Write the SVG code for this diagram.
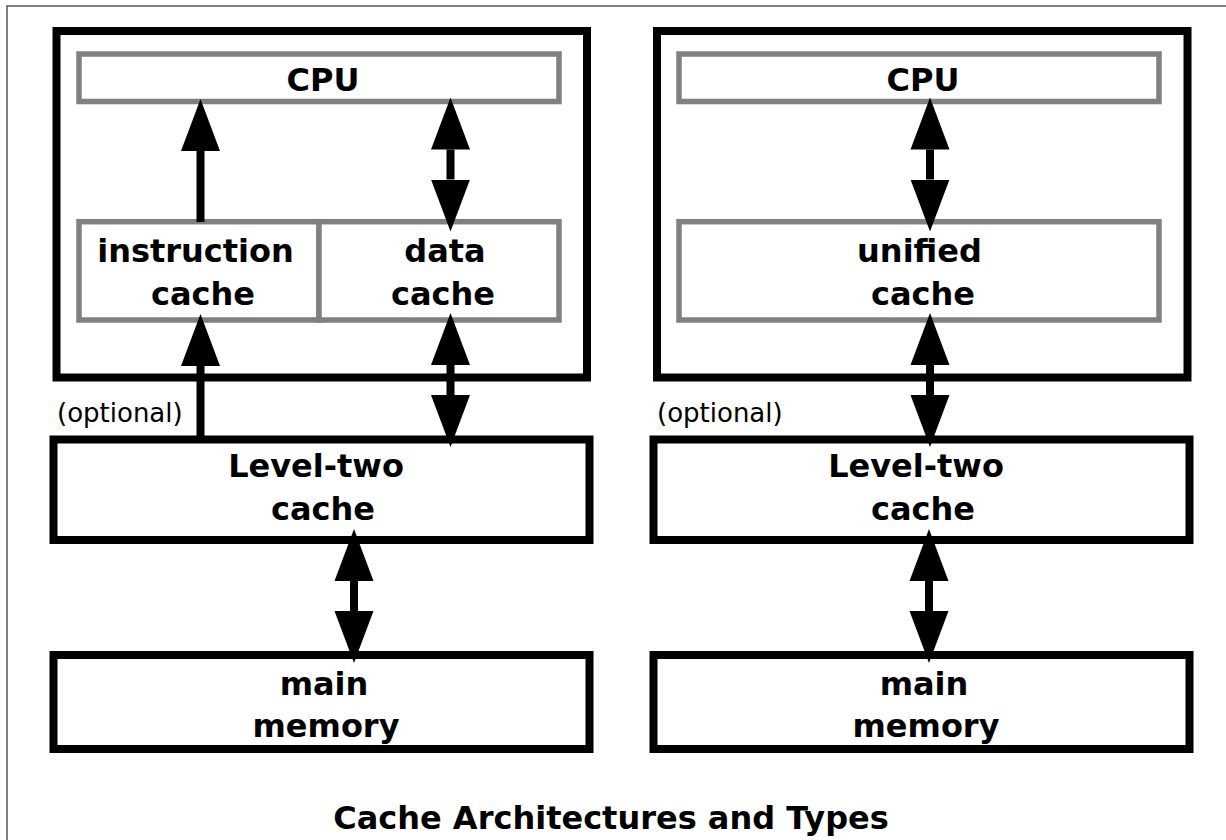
<svg xmlns="http://www.w3.org/2000/svg" width="1226" height="840" viewBox="0 0 1226 840">
<style>
.frame{fill:none;stroke:#555;stroke-width:1.5}
.outer{fill:#fff;stroke:#000;stroke-width:8}
.inner{fill:#fff;stroke:#808080;stroke-width:5.5}
.blk{fill:#fff;stroke:#000;stroke-width:8}
.t{font-family:"DejaVu Sans","Liberation Sans",sans-serif;font-weight:bold;font-size:32px;text-anchor:middle;fill:#000}
.opt{font-family:"DejaVu Sans","Liberation Sans",sans-serif;font-size:26px;fill:#000}
.arr{stroke:#000;stroke-width:8;fill:none}
.one{marker-end:url(#ah)}
.two{marker-start:url(#ah);marker-end:url(#ah)}
</style>
<defs>
<marker id="ah" viewBox="0 0 52 40" refX="0" refY="20" markerWidth="52" markerHeight="40" markerUnits="userSpaceOnUse" orient="auto-start-reverse">
<path d="M0,0.5 L52,20 L0,39.5 Z" fill="#000"/>
</marker>
</defs>
<rect width="1226" height="840" fill="#fff"/>
<rect class="frame" x="7" y="6" width="1240" height="860"/>

<g id="left-chip">
<rect class="outer" x="56.5" y="31" width="530.5" height="346.5"/>
</g>
<g id="left-cpu">
<rect class="inner" x="79" y="54" width="480" height="47.5"/>
<text class="t" x="323" y="91">CPU</text>
</g>
<g id="left-icache">
<rect class="inner" x="79" y="221.7" width="240" height="98.3"/>
<text class="t" x="195.5" y="262">instruction</text>
<text class="t" x="203" y="305">cache</text>
</g>
<g id="left-dcache">
<rect class="inner" x="319" y="221.7" width="240" height="98.3"/>
<text class="t" x="445" y="262">data</text>
<text class="t" x="443" y="305">cache</text>
</g>
<g id="left-l2">
<rect class="blk" x="53.5" y="439.5" width="536" height="100.5"/>
<text class="t" x="316" y="477">Level-two</text>
<text class="t" x="323" y="519.5">cache</text>
</g>
<g id="left-mem">
<rect class="blk" x="53.5" y="655" width="536" height="94"/>
<text class="t" x="324" y="695">main</text>
<text class="t" x="326" y="737">memory</text>
</g>
<g id="left-optional">
<text class="opt" x="57" y="421.5">(optional)</text>
</g>

<g id="right-chip">
<rect class="outer" x="657" y="31" width="530.5" height="346.5"/>
</g>
<g id="right-cpu">
<rect class="inner" x="679" y="54" width="480" height="47.5"/>
<text class="t" x="923" y="91">CPU</text>
</g>
<g id="right-ucache">
<rect class="inner" x="679" y="221.7" width="480" height="98.3"/>
<text class="t" x="919.5" y="262">unified</text>
<text class="t" x="923" y="305">cache</text>
</g>
<g id="right-l2">
<rect class="blk" x="653.5" y="439.5" width="536" height="100.5"/>
<text class="t" x="916" y="477">Level-two</text>
<text class="t" x="923" y="519.5">cache</text>
</g>
<g id="right-mem">
<rect class="blk" x="653.5" y="655" width="536" height="94"/>
<text class="t" x="924" y="695">main</text>
<text class="t" x="926" y="737">memory</text>
</g>
<g id="right-optional">
<text class="opt" x="657" y="421.5">(optional)</text>
</g>

<g id="connectors">
<line class="arr one" x1="200.5" y1="222" x2="200.5" y2="151"/>
<line class="arr two" x1="450.5" y1="149.5" x2="450.5" y2="179.5"/>
<line class="arr one" x1="200.5" y1="439.5" x2="200.5" y2="366"/>
<line class="arr two" x1="450.5" y1="365" x2="450.5" y2="395"/>
<line class="arr two" x1="354" y1="581" x2="354" y2="611"/>
<line class="arr two" x1="930" y1="149.5" x2="930" y2="179.5"/>
<line class="arr two" x1="930" y1="365" x2="930" y2="395"/>
<line class="arr two" x1="929" y1="581" x2="929" y2="611"/>
</g>

<g id="title">
<text class="t" x="611" y="829">Cache Architectures and Types</text>
</g>
</svg>
